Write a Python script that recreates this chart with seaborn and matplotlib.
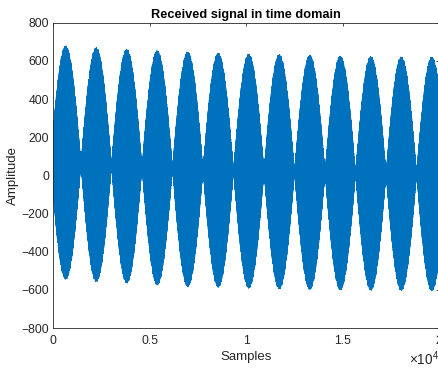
import numpy as np
import pandas as pd
import matplotlib
matplotlib.use("Agg")
import matplotlib.pyplot as plt
import seaborn as sns

# Received signal: 20000 samples, a fast carrier under a beating envelope
n_samples = 20000
carrier_cycles_per_sample = 0.2317

# Envelope lobes: sample index of each lobe peak, and the signal's max / min there
lobe_peaks = [643, 2220, 3786, 5368, 6940, 8548, 10140, 11707, 13294, 14876, 16457, 18039, 19632]
lobe_top = [679, 670, 662, 654, 647, 641, 636, 634, 630, 626, 624, 622, 621]
lobe_bottom = [-544, -557, -565, -574, -583, -586, -591, -595, -598, -600, -602, -604, -605]

x_ticks = [0, 5000, 10000, 15000, 20000]
x_tick_labels = ["0", "0.5", "1", "1.5", "2"]
y_ticks = [-800, -600, -400, -200, 0, 200, 400, 600, 800]

# Build the sampled waveform from the lobe description
n = np.arange(n_samples)
peaks = np.asarray(lobe_peaks, dtype=float)
top = np.asarray(lobe_top, dtype=float)
bottom = np.asarray(lobe_bottom, dtype=float)
center = np.interp(n, peaks, (top + bottom) / 2)
half = np.interp(n, peaks, (top - bottom) / 2)
period = np.mean(np.diff(peaks))
envelope = np.abs(np.cos(np.pi * (n - peaks[0]) / period))
signal = center + half * envelope * np.cos(2 * np.pi * carrier_cycles_per_sample * n)
df = pd.DataFrame({"Samples": n, "Amplitude": signal})

sns.set_theme(style="white")
plt.rcParams["font.family"] = ["Liberation Sans", "DejaVu Sans"]
plt.rcParams["mathtext.fontset"] = "custom"
plt.rcParams["mathtext.rm"] = "Liberation Sans"

fig = plt.figure(figsize=(4.38, 3.68), dpi=100)
ax = fig.add_axes([0.1217, 0.1084, 0.8804, 0.8296])

sns.lineplot(data=df, x="Samples", y="Amplitude", ax=ax, color="#0072BD",
             linewidth=0.6, estimator=None, sort=False, errorbar=None)

ax.set_xlim(0, 20000)
ax.set_ylim(-800, 800)
ax.set_xticks(x_ticks)
ax.set_xticklabels(x_tick_labels)
ax.set_yticks(y_ticks)

edge = "#262626"
for s in ax.spines.values():
    s.set_visible(True)
    s.set_color(edge)
    s.set_linewidth(0.6)

ax.tick_params(direction="in", length=2.5, width=0.6, color=edge,
               labelsize=8.7, labelcolor="#262626", top=True, right=True)
ax.tick_params(axis="x", pad=5)
ax.tick_params(axis="y", pad=3)

ax.set_xlabel("Samples", fontsize=9.5, color="#262626", labelpad=3)
ax.set_ylabel("Amplitude", fontsize=9.5, color="#262626", labelpad=2)
ax.set_title("Received signal in time domain", fontsize=9.2, fontweight="bold",
             color="black", pad=3.5)

fig.text(409 / 438, 1 - 365 / 368, r"$\times10^{4}$", fontsize=9.8,
         color="#262626", ha="left", va="baseline")

fig.savefig("out.png", dpi=100)
